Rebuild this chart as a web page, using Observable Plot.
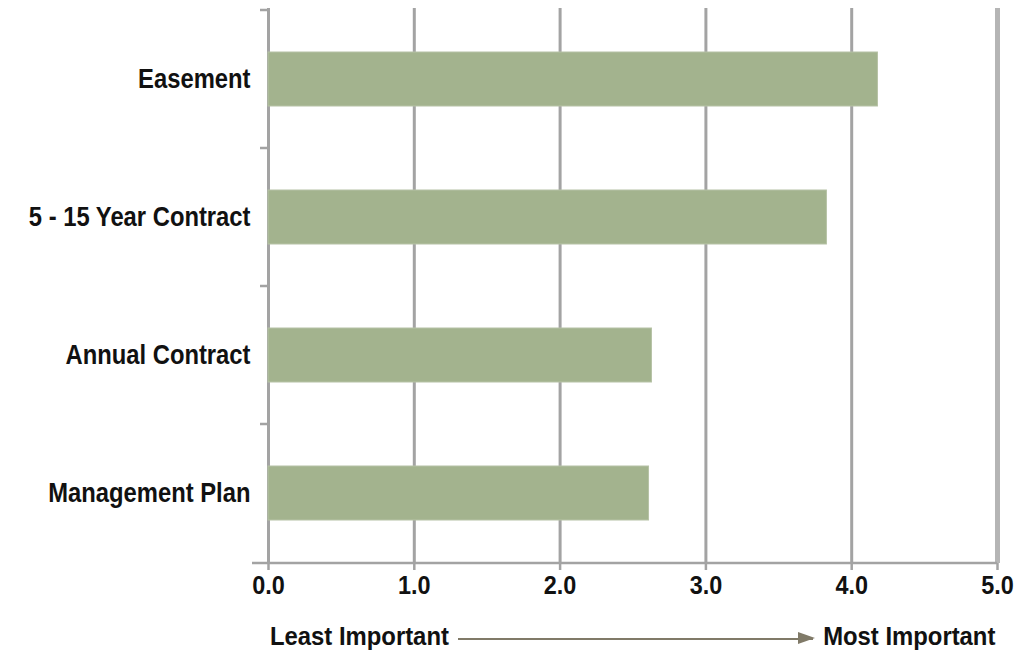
<!DOCTYPE html>
<html><head><meta charset="utf-8">
<script src="https://cdn.jsdelivr.net/npm/d3@7"></script>
<script src="https://cdn.jsdelivr.net/npm/@observablehq/plot@0.6"></script>
<style>
body{margin:0;background:#fff;}
#wrap{width:1036px;height:654px;position:relative;}
.cap{font-family:"Liberation Sans Narrow","Liberation Sans",Arial,sans-serif;font-weight:bold;font-size:26.5px;line-height:1;color:#111;position:absolute;white-space:nowrap;}
.arrow{position:absolute;height:0;border-top:2.5px solid #807a68;}
.arrow::after{content:"";position:absolute;right:-2px;top:-8px;border-left:17px solid #807a68;border-top:6.5px solid transparent;border-bottom:6.5px solid transparent;}
</style></head><body><div id="wrap"></div>
<script>
const categories = ["Easement", "5 - 15 Year Contract", "Annual Contract", "Management Plan"];
const values = [4.18, 3.83, 2.63, 2.61];
const xTicks = [0, 1, 2, 3, 4, 5];
const leftLabel = "Least Important";
const rightLabel = "Most Important";

const FONT = '"Liberation Sans Narrow","Liberation Sans",Arial,sans-serif';
const table = categories.map((c, i) => ({category: c, value: values[i]}));

const chart = Plot.plot({
  width: 1036, height: 612,
  marginLeft: 268, marginRight: 39, marginTop: 8, marginBottom: 49,
  style: {fontFamily: FONT, fontWeight: "bold", fontSize: "26px", color: "#111", background: "#fff", overflow: "visible"},
  x: {domain: [0, 5], ticks: xTicks, tickFormat: d => d.toFixed(1), label: null},
  y: {domain: categories, paddingInner: 0.61, paddingOuter: 0.305, label: null},
  marks: [
    Plot.gridX(xTicks, {stroke: "#a3a3a3", strokeOpacity: 1, strokeWidth: 3}),
    Plot.ruleX([xTicks[xTicks.length - 1]], {stroke: "#b5b5b5", strokeWidth: 5}),
    Plot.barX(table, {y: "category", x: "value", fill: "#a3b38e", stroke: "#b6c2a6", strokeWidth: 1}),
    Plot.axisX(xTicks, {tickSize: 7, tickPadding: 5, stroke: "#a3a3a3", strokeWidth: 2.5, fontSize: 26, label: null, tickFormat: d => d.toFixed(1)}),
    Plot.axisY({tickSize: 0, tickPadding: 18, fontSize: 28, label: null})
  ]
});
document.getElementById("wrap").append(chart);

// condense the bold sans text horizontally around its anchor (narrow face is not installed)
function condense(sel, s, anchor) {
  d3.select(chart).selectAll(sel).each(function() {
    const b = this.getBBox();
    const ax = anchor === "end" ? b.x + b.width : b.x + b.width / 2;
    const tr = this.getAttribute("transform") || "";
    this.setAttribute("transform", `${tr} translate(${ax},0) scale(${s},1) translate(${-ax},0)`);
  });
}
condense("g[aria-label='x-axis tick label'] text", 0.9, "middle");
condense("g[aria-label='y-axis tick label'] text", 0.85, "end");

// extras drawn from the chart's own scales
const xs = chart.scale("x"), ys = chart.scale("y");
const svg = d3.select(chart);
const bottom = Math.max(ys.range[0], ys.range[1]);
const g = svg.append("g").attr("stroke", "#a3a3a3").attr("stroke-width", 2.5);
g.append("line").attr("x1", xs.apply(0) - 16).attr("x2", xs.apply(5)).attr("y1", bottom).attr("y2", bottom);
categories.forEach(c => {
  const yb = ys.apply(c) - (ys.step - ys.bandwidth) / 2;
  g.append("line").attr("x1", xs.apply(0) - 8).attr("x2", xs.apply(0)).attr("y1", yb).attr("y2", yb);
});

// caption with arrow, below the plot
const wrap = d3.select("#wrap");
wrap.append("div").attr("class", "cap").style("left", "270px").style("top", "622.5px")
  .style("transform", "scaleX(0.9)").style("transform-origin", "left center").text(leftLabel);
wrap.append("div").attr("class", "arrow").style("left", "458px").style("width", "355px").style("top", "638px");
wrap.append("div").attr("class", "cap").style("right", "41px").style("top", "622.5px")
  .style("transform", "scaleX(0.9)").style("transform-origin", "right center").text(rightLabel);
</script></body></html>
